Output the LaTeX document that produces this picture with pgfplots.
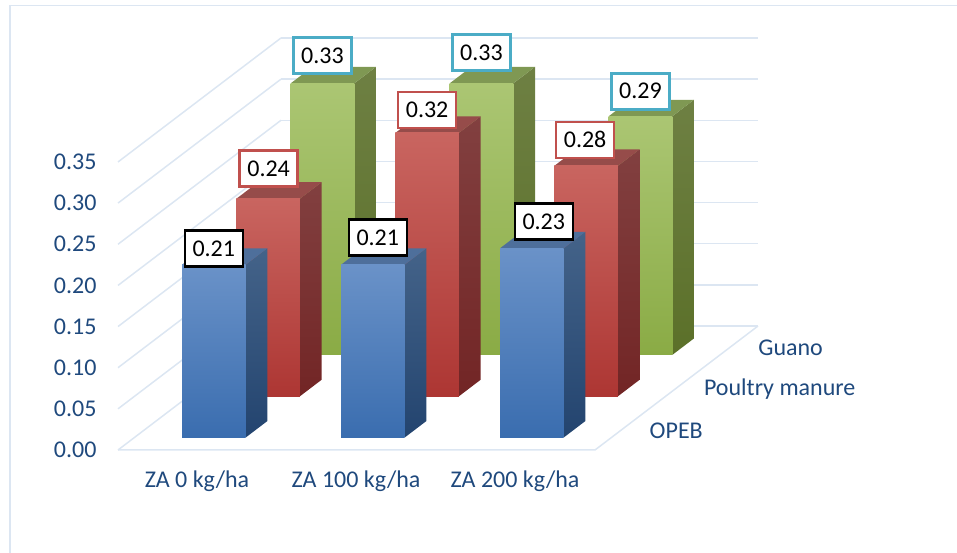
\documentclass[border=0pt]{standalone}
\usepackage{pgfplots}
\usepackage{fontspec}
\setmainfont{Carlito}
\pgfplotsset{compat=1.18}

\definecolor{gridline}{HTML}{DCE6F2}
\definecolor{axistext}{HTML}{1F497D}
\definecolor{boxcyan}{HTML}{4BACC6}
\definecolor{bluetop}{HTML}{6A92C8}\definecolor{bluemid}{HTML}{4A7FC0}\definecolor{bluebot}{HTML}{3A6DAF}
\definecolor{blueside}{HTML}{446389}\definecolor{bluesideb}{HTML}{23446F}\definecolor{bluecap}{HTML}{4E6F9B}
\definecolor{redtop}{HTML}{C96560}\definecolor{redmid}{HTML}{C0504D}\definecolor{redbot}{HTML}{AD3633}
\definecolor{redside}{HTML}{824040}\definecolor{redsideb}{HTML}{722525}\definecolor{redcap}{HTML}{964C4A}
\definecolor{greentop}{HTML}{ABC673}\definecolor{greenmid}{HTML}{9BBB59}\definecolor{greenbot}{HTML}{8AAB45}
\definecolor{greenside}{HTML}{6E8043}\definecolor{greensideb}{HTML}{5B7029}\definecolor{greencap}{HTML}{7F9853}

% One cuboid: column centre, row centre, height, colour prefix
\newcommand\cuboid[4]{%
  \pgfmathsetmacro\xa{#1-0.2}\pgfmathsetmacro\xb{#1+0.2}%
  \pgfmathsetmacro\ya{#2-0.2}\pgfmathsetmacro\yb{#2+0.2}%
  \addplot3[draw=none,mark=none,forget plot,top color=#4side,bottom color=#4sideb]
    coordinates {(\xb,\ya,0) (\xb,\yb,0) (\xb,\yb,#3) (\xb,\ya,#3)} --cycle;
  \addplot3[draw=none,mark=none,forget plot,fill=#4cap]
    coordinates {(\xa,\ya,#3) (\xb,\ya,#3) (\xb,\yb,#3) (\xa,\yb,#3)} --cycle;
  \addplot3[draw=none,mark=none,forget plot,top color=#4top,middle color=#4mid,bottom color=#4bot]
    coordinates {(\xa,\ya,0) (\xb,\ya,0) (\xb,\ya,#3) (\xa,\ya,#3)} --cycle;
}
% Value box above the front edge of a cuboid: column, row, height, border colour, shifts
\newcommand\valuebox[6]{%
  \pgfmathsetmacro\ya{#2-0.2}%
  \addplot3[draw=none,mark=none,forget plot,point meta=z,
    nodes near coords={\pgfmathprintnumber[fixed,fixed zerofill,precision=2,assume math mode=true]{\pgfplotspointmeta}},
    every node near coord/.style={anchor=center,xshift=#5pt,yshift=#6pt,fill=white,draw=#4,line width=2.6pt,
      text=black,font=\fontsize{24}{24}\selectfont,minimum width=58pt,minimum height=36pt,inner sep=0pt}]
    coordinates {(#1,\ya,#3)};
}

\begin{document}
\begin{tikzpicture}[x=1pt,y=1pt]
  \path[use as bounding box] (0,0) rectangle (957,553);
  \draw[gridline,line width=1.5pt] (10,0) -- (10,547.5) -- (957,547.5);
  \begin{axis}[
    at={(118pt,103pt)},anchor=origin,
    x={(159pt,0pt)},y={(54.33pt,41.33pt)},z={(0pt,822.9pt)},
    xmin=0,xmax=3,ymin=0,ymax=3,zmin=0,zmax=0.35,
    clip=false,
    axis line style={draw=none},
    major tick length=0pt,tick style={draw=none},
    xtick={0.5,1.5,2.5},xticklabels={ZA 0 kg/ha,ZA 100 kg/ha,ZA 200 kg/ha},
    ytick={0.5,1.5,2.5},yticklabels={OPEB,Poultry manure,Guano},
    ztick={0,0.05,0.10,0.15,0.20,0.25,0.30,0.35},
    xmajorgrids=false,ymajorgrids=false,zmajorgrids=true,
    major grid style={gridline,line width=1.5pt},
    ticklabel style={text=axistext,font=\fontsize{24}{24}\selectfont},
    xticklabel style={anchor=center,yshift=-31pt,xshift=-0.5pt},
    yticklabel style={anchor=west,xshift=24pt,yshift=-1pt},
    zticklabel style={anchor=east,xshift=-18pt,/pgf/number format/fixed,/pgf/number format/fixed zerofill,
      /pgf/number format/precision=2,/pgf/number format/assume math mode=true},
  ]
    % floor edges not covered by the wall grid
    \addplot3[gridline,line width=1.5pt,mark=none,forget plot]
      coordinates {(0,0,0) (3,0,0) (3,3,0)};

    % back row: Guano
    \cuboid{0.5}{2.5}{0.33}{green}
    \cuboid{1.5}{2.5}{0.33}{green}
    \cuboid{2.5}{2.5}{0.29}{green}
    % middle row: Poultry manure
    \cuboid{0.5}{1.5}{0.24}{red}
    \cuboid{1.5}{1.5}{0.32}{red}
    \cuboid{2.5}{1.5}{0.28}{red}
    % front row: OPEB
    \cuboid{0.5}{0.5}{0.21}{blue}
    \cuboid{1.5}{0.5}{0.21}{blue}
    \cuboid{2.5}{0.5}{0.23}{blue}

    \valuebox{0.5}{2.5}{0.33}{boxcyan}{0}{28}
    \valuebox{1.5}{2.5}{0.33}{boxcyan}{0}{31}
    \valuebox{2.5}{2.5}{0.29}{boxcyan}{0}{25}
    \valuebox{0.5}{1.5}{0.24}{redmid}{0.5}{30}
    \valuebox{1.5}{1.5}{0.32}{redmid}{0}{23}
    \valuebox{2.5}{1.5}{0.28}{redmid}{-1}{26}
    \valuebox{0.5}{0.5}{0.21}{black}{0}{16}
    \valuebox{1.5}{0.5}{0.21}{black}{5}{27}
    \valuebox{2.5}{0.5}{0.23}{black}{12}{27}
  \end{axis}
\end{tikzpicture}
\end{document}
